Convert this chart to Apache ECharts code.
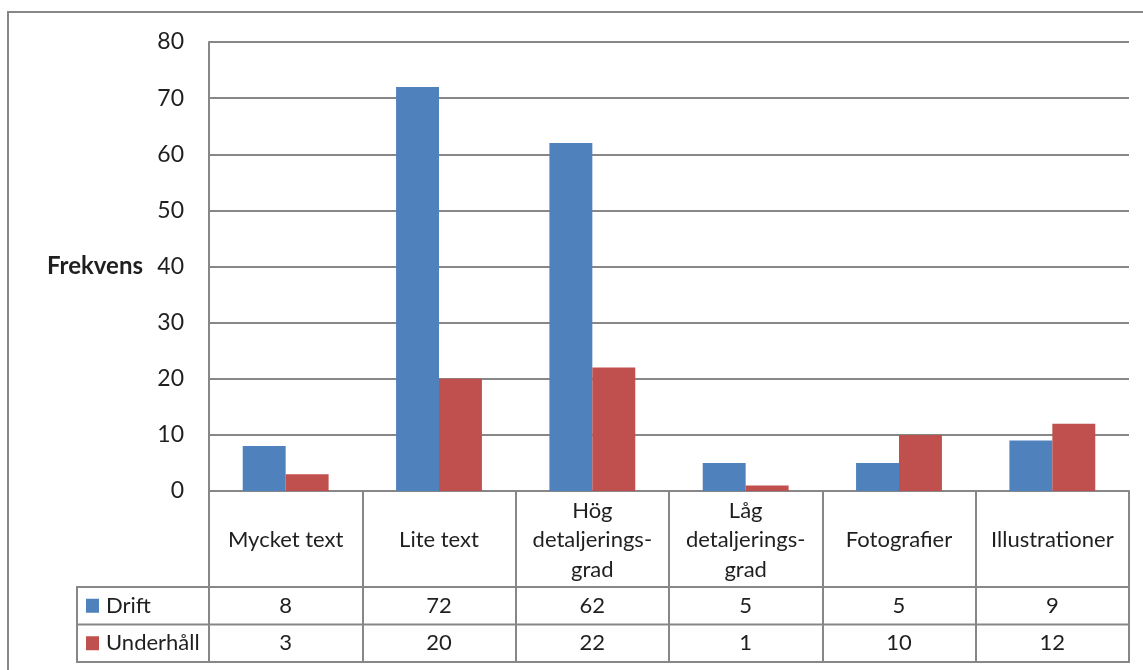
<!DOCTYPE html>
<html>
<head>
<meta charset="utf-8">
<script src="https://cdn.jsdelivr.net/npm/echarts@6/dist/echarts.min.js"></script>
<style>
  html, body { margin: 0; padding: 0; background: #fff; }
  #chart { width: 1143px; height: 670px; }
</style>
</head>
<body>
<div id="chart"></div>
<script>
// Frequency per category, split by Drift / Underhåll
const categories = ['Mycket text', 'Lite text', 'Hög\ndetaljerings-\ngrad', 'Låg\ndetaljerings-\ngrad', 'Fotografier', 'Illustrationer'];
const seriesNames = ['Drift', 'Underhåll'];
const drift = [8, 72, 62, 5, 5, 9];
const underhall = [3, 20, 22, 1, 10, 12];
const seriesColors = ['#4F81BD', '#C0504D'];
const yAxisName = 'Frekvens';
const yMin = 0, yMax = 80, yStep = 10;

const FONT = 'Lato';
const TEXT = '#1f1f1f';
const LINE = '#878787';
const tableRows = [drift, underhall];

const chart = echarts.init(document.getElementById('chart'), null, { renderer: 'canvas' });

const CAT_ROW_H = 96;   // height of the category-name row under the axis
const DATA_ROW_H = 37.5; // height of each data row
const TICK_LEN = CAT_ROW_H + 2 * DATA_ROW_H;

chart.setOption({
  animation: false,
  backgroundColor: '#fff',
  textStyle: { fontFamily: FONT },
  grid: { left: 209, right: 14, top: 42, bottom: 179, containLabel: false },
  xAxis: {
    type: 'category',
    data: categories,
    axisLine: { show: true, lineStyle: { color: LINE, width: 2 } },
    axisTick: { show: true, interval: 0, length: TICK_LEN, lineStyle: { color: LINE, width: 2 } },
    axisLabel: {
      interval: 0, margin: 49, verticalAlign: 'middle', lineHeight: 29.5,
      fontFamily: FONT, fontSize: 22, color: TEXT
    },
    splitLine: { show: false }
  },
  yAxis: {
    type: 'value',
    min: yMin, max: yMax, interval: yStep,
    name: yAxisName,
    nameLocation: 'middle',
    nameRotate: 0,
    nameGap: 66,
    nameTextStyle: { fontFamily: FONT, fontSize: 24, fontWeight: 'bold', color: TEXT, align: 'right', verticalAlign: 'middle' },
    axisLine: { show: true, lineStyle: { color: LINE, width: 2 } },
    axisTick: { show: false },
    axisLabel: { margin: 25, fontFamily: FONT, fontSize: 23, color: TEXT },
    splitLine: { show: true, lineStyle: { color: LINE, width: 2 } }
  },
  series: [
    { name: seriesNames[0], type: 'bar', data: drift, barGap: '0%', barCategoryGap: '44%',
      itemStyle: { color: seriesColors[0] } },
    { name: seriesNames[1], type: 'bar', data: underhall, barGap: '0%', barCategoryGap: '44%',
      itemStyle: { color: seriesColors[1] } }
  ]
});

// Data table below the category axis, positioned from the axis scales
function buildTable() {
  const centers = categories.map((c, i) => chart.convertToPixel({ xAxisIndex: 0 }, i));
  const colW = centers.length > 1 ? centers[1] - centers[0] : 150;
  const xRight = centers[centers.length - 1] + colW / 2;
  const y0 = chart.convertToPixel({ yAxisIndex: 0 }, yMin);
  const tableLeft = 77;
  const rowTop = y0 + CAT_ROW_H;
  const els = [];

  // outer chart frame
  els.push({ type: 'rect', shape: { x: 8, y: 12, width: 1300, height: 800 },
    style: { fill: 'none', stroke: LINE, lineWidth: 2 }, silent: true });

  // horizontal table rules
  for (let r = 0; r <= tableRows.length; r++) {
    const y = rowTop + r * DATA_ROW_H;
    els.push({ type: 'line', shape: { x1: tableLeft, y1: y, x2: xRight + 1, y2: y },
      style: { stroke: LINE, lineWidth: 2 }, silent: true });
  }
  // left rule of the legend column
  els.push({ type: 'line', shape: { x1: tableLeft, y1: rowTop - 1, x2: tableLeft, y2: rowTop + tableRows.length * DATA_ROW_H + 1 },
    style: { stroke: LINE, lineWidth: 2 }, silent: true });

  tableRows.forEach((vals, r) => {
    const cy = rowTop + r * DATA_ROW_H + DATA_ROW_H / 2;
    // legend key
    els.push({ type: 'rect', shape: { x: 86, y: cy - 7, width: 13, height: 14 },
      style: { fill: seriesColors[r] }, silent: true });
    els.push({ type: 'text', x: 106, y: cy,
      style: { text: seriesNames[r], fontFamily: FONT, fontSize: 22, fill: TEXT, align: 'left', verticalAlign: 'middle' }, silent: true });
    vals.forEach((v, i) => {
      els.push({ type: 'text', x: centers[i], y: cy,
        style: { text: String(v), fontFamily: FONT, fontSize: 22, fill: TEXT, align: 'center', verticalAlign: 'middle' }, silent: true });
    });
  });

  chart.setOption({ graphic: { elements: els } });
}
buildTable();
</script>
</body>
</html>
